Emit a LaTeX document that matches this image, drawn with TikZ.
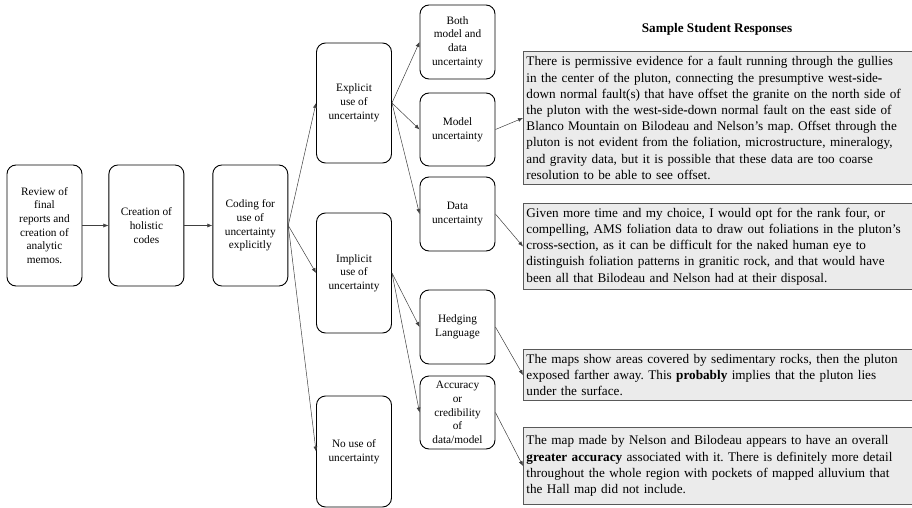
\documentclass[tikz,border=0pt]{standalone}
\usepackage{fontspec}
\setmainfont{Liberation Serif}
\usetikzlibrary{positioning,arrows.meta}
\newcommand{\bh}{\textbf{-}}
\frenchspacing

\begin{document}
\begin{tikzpicture}[x=1pt, y=-1pt,
    etape/.style={draw, line width=0.9pt, rounded corners=9pt, minimum width=75pt, align=center, inner sep=2pt, font=\fontsize{11.3}{13.7}\selectfont},
    reponse/.style={draw=black!65, line width=0.9pt, fill=black!8, text width=392pt, inner xsep=3pt, inner ysep=4.8pt, align=left, anchor=west, font=\fontsize{13.2}{16.2}\selectfont},
    fleche/.style={-{Latex[length=5pt,width=4pt]}, draw=black!75, line width=0.5pt}]
      \useasboundingbox (0,0) rectangle (912,508);
      \node[etape, minimum height=121pt] (review) at (44.5,225.5) {Review of\\final\\reports and\\creation of\\analytic\\memos.};
      \node[etape, minimum height=121pt, right=26pt of review] (holistic) {Creation of\\holistic\\codes};
      \node[etape, minimum height=121pt, right=28pt of holistic] (coding) {Coding for\\use of\\uncertainty\\explicitly};
      \node[etape, minimum height=120pt] (explicit) at (354,103) {Explicit\\use of\\uncertainty};
      \node[etape, minimum height=120pt] (implicit) at (354,273) {Implicit\\use of\\uncertainty};
      \node[etape, minimum height=111pt] (nouse) at (354,451.5) {No use of\\uncertainty};
      \node[etape, minimum height=74pt] (both) at (457.5,42) {Both\\model and\\data\\uncertainty};
      \node[etape, minimum height=73pt] (model) at (457.5,129.5) {Model\\uncertainty};
      \node[etape, minimum height=74pt] (data) at (457.5,214) {Data\\uncertainty};
      \node[etape, minimum height=74pt] (hedging) at (457.5,327) {Hedging\\Language};
      \node[etape, minimum height=73pt] (accuracy) at (457.5,412.5) {Accuracy\\or\\credibility\\of\\data/model};
      \node[font=\bfseries\fontsize{13.2}{15}\selectfont] (titre) at (717,29) {Sample Student Responses};
      \node[reponse] (rep1) at (523,118) {There is permissive evidence for a fault running through the gullies\\in the center of the pluton, connecting the presumptive west\bh side\bh\\down normal fault(s) that have offset the granite on the north side of\\the pluton with the west\bh side\bh down normal fault on the east side of\\Blanco Mountain on Bilodeau and Nelson's map. Offset through the\\pluton is not evident from the foliation, microstructure, mineralogy,\\and gravity data, but it is possible that these data are too coarse\\resolution to be able to see offset.};
      \node[reponse] (rep2) at (523,246.5) {Given more time and my choice, I would opt for the rank four, or\\compelling, AMS foliation data to draw out foliations in the pluton's\\cross\bh section, as it can be difficult for the naked human eye to\\distinguish foliation patterns in granitic rock, and that would have\\been all that Bilodeau and Nelson had at their disposal.};
      \node[reponse] (rep3) at (523,375) {The maps show areas covered by sedimentary rocks, then the pluton\\exposed farther away. This \textbf{probably} implies that the pluton lies\\under the surface.};
      \node[reponse, inner ysep=8pt] (rep4) at (523,466) {The map made by Nelson and Bilodeau appears to have an overall\\\textbf{greater accuracy} associated with it. There is definitely more detail\\throughout the whole region with pockets of mapped alluvium that\\the Hall map did not include.};
      \draw[fleche] (review) -- (holistic);
      \draw[fleche] (holistic) -- (coding);
      \draw[fleche] (coding.east) -- (explicit.west);
      \draw[fleche] (coding.east) -- (implicit.west);
      \draw[fleche] (coding.east) -- (nouse.west);
      \draw[fleche] (explicit.east) -- (both.west);
      \draw[fleche] (explicit.east) -- (model.west);
      \draw[fleche] (explicit.east) -- (data.west);
      \draw[fleche] (implicit.east) -- (hedging.west);
      \draw[fleche] (implicit.east) -- (accuracy.west);
      \draw[fleche] (model.east) -- (rep1.west);
      \draw[fleche] (data.east) -- (rep2.west);
      \draw[fleche] (hedging.east) -- (rep3.west);
      \draw[fleche] (accuracy.east) -- (rep4.west);
    \end{tikzpicture}
\end{document}
